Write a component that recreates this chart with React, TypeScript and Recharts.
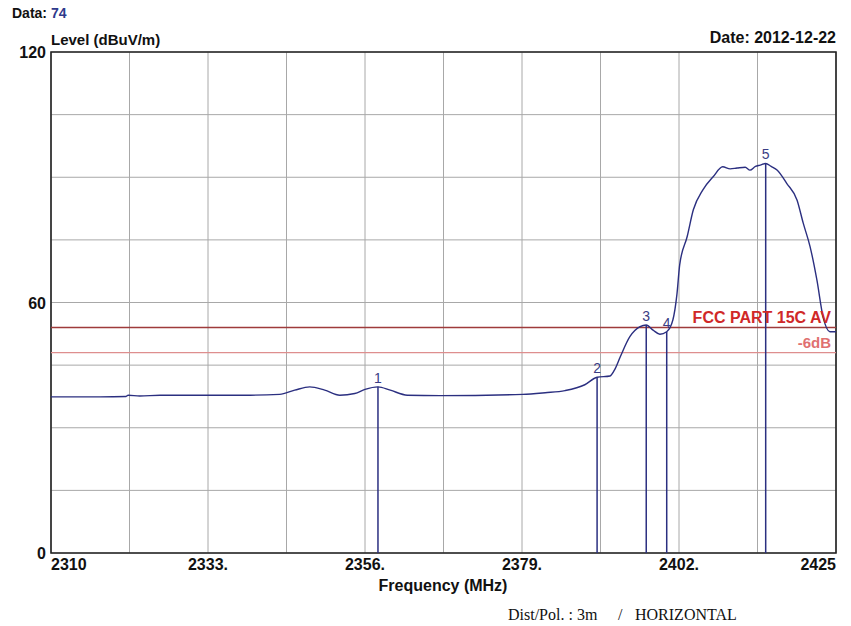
import React from 'react';
import {
  ComposedChart,
  Line,
  XAxis,
  YAxis,
  CartesianGrid,
  ReferenceLine,
  ReferenceArea,
  ReferenceDot,
} from 'recharts';

// trace (MHz / dBuV/m)
const freqs = [
  2310, 2317.2, 2321.0, 2321.3, 2323.0, 2326.0, 2339.2, 2343.5, 2345.7, 2347.9,
  2350.1, 2352.3, 2354.5, 2356.0, 2357.9, 2359.7, 2362.2, 2367.0, 2379.1, 2382.4,
  2385.3, 2388.2, 2390.0, 2391.9, 2392.6, 2393.4, 2394.8, 2396.3, 2397.2, 2398.2,
  2399.2, 2400.2, 2401.1, 2401.7, 2402.1, 2403.2, 2404.1, 2405.5, 2407.0, 2408.4,
  2409.5, 2410.5, 2411.7, 2412.4, 2413.2, 2413.9, 2414.7, 2415.5, 2416.4, 2417.8,
  2419.3, 2420.2, 2421.2, 2422.2, 2423.1, 2424.1, 2425,
];
const levels = [
  37.4, 37.4, 37.5, 37.8, 37.6, 37.8, 37.8, 38.0, 39.0, 39.8,
  39.0, 37.8, 38.2, 39.2, 39.8, 39.0, 37.8, 37.7, 38.0, 38.4,
  38.9, 40.3, 42.1, 42.4, 44.0, 47.0, 51.8, 54.2, 54.6, 53.4,
  52.4, 53.0, 55.8, 62.0, 69.0, 75.8, 82.2, 87.0, 90.1, 92.5,
  92.0, 92.2, 92.4, 91.7, 92.6, 92.9, 93.3, 92.6, 91.7, 88.5,
  84.5, 79.0, 73.4, 65.4, 56.6, 53.0, 53.0,
];

// marker peaks
const markerFreqs = [2357.9, 2390.0, 2397.2, 2400.2, 2414.7];
const markerLevels = [39.8, 42.1, 54.6, 53.0, 93.3];
const markerNames = ['1', '2', '3', '4', '5'];

// limit lines
const limitValue = 54;
const limitLowValue = 48;

const xGridTicks = [2310, 2321.5, 2333, 2344.5, 2356, 2367.5, 2379, 2390.5, 2402, 2413.5, 2425];
const xLabelTicks = [2310, 2333, 2356, 2379, 2402, 2425];
const yGridTicks = [0, 15, 30, 45, 60, 75, 90, 105, 120];
const yLabelTicks = [0, 60, 120];

const trace = freqs.map((f, i) => ({ freq: f, level: levels[i] }));

const TRACE = '#2b2f80';
const FONT = '"Liberation Sans", Arial, sans-serif';

const XTick = (props: any) => {
  const { x, payload } = props;
  const v = payload.value;
  if (!xLabelTicks.includes(v)) return null;
  const first = v === xLabelTicks[0];
  const last = v === xLabelTicks[xLabelTicks.length - 1];
  const anchor = first ? 'start' : last ? 'end' : 'middle';
  const text = first || last ? String(v) : `${v}.`;
  return (
    <text x={x} y={553 + 17} textAnchor={anchor} fontSize={16} fontWeight="bold" fontFamily={FONT} fill="#111">
      {text}
    </text>
  );
};

const YTick = (props: any) => {
  const { y, payload } = props;
  const v = payload.value;
  if (!yLabelTicks.includes(v)) return null;
  return (
    <text x={46} y={y + 6} textAnchor="end" fontSize={16} fontWeight="bold" fontFamily={FONT} fill="#111">
      {v}
    </text>
  );
};

const App: React.FC = () => {
  return (
    <div style={{ position: 'absolute', left: 0, top: 0, width: 851, height: 626, background: '#fff' }}>
      <ComposedChart
        width={851}
        height={626}
        data={trace}
        margin={{ top: 52, right: 15, bottom: 43, left: 11 }}
      >
        <CartesianGrid stroke="#a8a8a8" strokeWidth={1} />
        <XAxis
          type="number"
          dataKey="freq"
          domain={[2310, 2425]}
          ticks={xGridTicks}
          interval={0}
          height={30}
          tick={<XTick />}
          tickLine={false}
          axisLine={false}
          allowDataOverflow
        />
        <YAxis
          type="number"
          domain={[0, 120]}
          ticks={yGridTicks}
          interval={0}
          width={40}
          tick={<YTick />}
          tickLine={false}
          axisLine={false}
          allowDataOverflow
        />
        <ReferenceLine
          y={limitValue}
          stroke="#9e3b3b"
          strokeWidth={1.5}
          label={{
            value: 'FCC PART 15C AV',
            position: 'insideBottomRight',
            fill: '#d02828',
            fontSize: 16,
            fontWeight: 'bold',
            fontFamily: FONT,
          }}
        />
        <ReferenceLine
          y={limitLowValue}
          stroke="#de8e8e"
          strokeWidth={1.3}
          label={{
            value: '-6dB',
            position: 'insideBottomRight',
            fill: '#e07070',
            fontSize: 15,
            fontWeight: 'bold',
            fontFamily: FONT,
          }}
        />
        {markerFreqs.map((f, i) => (
          <ReferenceLine
            key={`m-${i}`}
            segment={[
              { x: f, y: 0 },
              { x: f, y: markerLevels[i] },
            ]}
            stroke={TRACE}
            strokeWidth={1.5}
          />
        ))}
        <Line
          type="monotone"
          dataKey="level"
          stroke={TRACE}
          strokeWidth={1.4}
          dot={false}
          isAnimationActive={false}
        />
        {markerFreqs.map((f, i) => (
          <ReferenceDot
            key={`d-${i}`}
            x={f}
            y={markerLevels[i]}
            r={0}
            shape={(p: any) => (
              <text x={p.cx} y={p.cy - 4} textAnchor="middle" fontSize={14} fontFamily={FONT} fill="#3a3d85">
                {markerNames[i]}
              </text>
            )}
          />
        ))}
        <ReferenceArea x1={2310} x2={2425} y1={0} y2={120} fill="none" stroke="#222" strokeWidth={1.6} />
      </ComposedChart>
      <svg
        width={851}
        height={626}
        style={{ position: 'absolute', left: 0, top: 0, pointerEvents: 'none' }}
        fontFamily={FONT}
      >
        <text x={12} y={18} fontSize={14} fontWeight="bold" fill="#111">
          Data: <tspan fill="#2e3a8c">74</tspan>
        </text>
        <text x={51} y={45} fontSize={15} fontWeight="bold" fill="#111">
          Level (dBuV/m)
        </text>
        <text x={836} y={43} fontSize={16} fontWeight="bold" fill="#111" textAnchor="end">
          Date: 2012-12-22
        </text>
        <text x={443} y={591} fontSize={16} fontWeight="bold" fill="#111" textAnchor="middle">
          Frequency (MHz)
        </text>
        <g fontFamily='"Liberation Serif", "Times New Roman", serif' fontSize={16} fill="#111">
          <text x={508} y={620}>Dist/Pol. : 3m</text>
          <text x={618} y={620}>/</text>
          <text x={635} y={620}>HORIZONTAL</text>
        </g>
      </svg>
    </div>
  );
};

export default App;
